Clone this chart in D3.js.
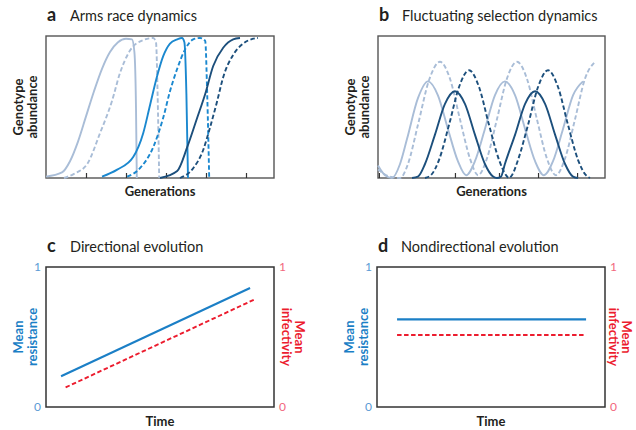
<!DOCTYPE html>
<html>
<head>
<meta charset="utf-8">
<script src="https://cdn.jsdelivr.net/npm/d3@7"></script>
<style>
  body { margin: 0; background: #fff; }
  text { font-family: Lato, "Open Sans", sans-serif; fill: #231f20; }
  .title { font-size: 14.5px; }
  .letter { font-size: 18px; font-weight: bold; }
  .axisLabel { font-size: 13px; font-weight: bold; }
  .tickNum { font-size: 12px; }
</style>
</head>
<body>
<svg id="chart-svg" width="636" height="430"></svg>
<script>
////////////////////////////////////////////////////////////////////////////////
// Data
// a: arms race, [generation, abundance]
var armsLight = [[0,0.01],[0.4,0.04],[0.6,0.12],[0.8,0.26],[1.0,0.44],[1.2,0.62],[1.4,0.78],[1.6,0.9],[1.8,0.97],[2.0,0.995],[2.15,0.99],[2.21,0.9],[2.25,0.5],[2.27,0]];
var armsLightDash = [[0.45,0],[0.7,0.03],[1.03,0.1],[1.35,0.32],[1.65,0.55],[1.85,0.75],[2.1,0.91],[2.43,0.985],[2.68,1.0],[2.75,0.97],[2.79,0.6],[2.83,0]];
var armsMid = [[1.4,0.01],[1.78,0.06],[2.18,0.15],[2.43,0.32],[2.6,0.52],[2.78,0.73],[2.93,0.87],[3.1,0.96],[3.28,0.99],[3.4,1.0],[3.46,0.97],[3.51,0.6],[3.55,0]];
var armsMidDash = [[2.03,0.01],[2.35,0.07],[2.68,0.22],[2.93,0.43],[3.1,0.62],[3.28,0.78],[3.48,0.92],[3.68,0.99],[3.85,1.0],[3.98,0.98],[4.03,0.6],[4.08,0]];
var armsDark = [[2.85,0],[3.28,0.05],[3.53,0.22],[3.78,0.43],[3.98,0.6],[4.18,0.8],[4.43,0.93],[4.68,0.99],[4.85,1.0]];
var armsDarkDash = [[3.35,0],[3.68,0.07],[3.93,0.2],[4.1,0.36],[4.28,0.55],[4.43,0.72],[4.68,0.88],[4.93,0.96],[5.18,0.995],[5.3,1.0]];
var armsTicks = [1, 2, 3, 4, 5];

// b: fluctuating selection, generation values and abundances
var flucLightX = [0,3.1,6.2,9.7,12.8,17.6,22.0,26.4,30.8,35.2,38.8,42.7,47.1,51.5,55.9,60.4,64.8,69.2,73.1,77.1,81.5,85.9,90.3];
var flucLightY = [0.09,0.02,0,0.1,0.28,0.57,0.69,0.59,0.35,0.12,0.02,0.12,0.35,0.59,0.69,0.59,0.35,0.12,0.02,0.12,0.35,0.59,0.69];
var flucLightDashX = [0,4.4,9.7,13.2,17.6,22.5,27.3,31.7,36.1,40.5,44.1,48.0,52.4,56.8,61.2,65.6,70.0,74.4,78.4,82.4,86.8,91.2,95.6];
var flucLightDashY = [0.06,0.015,0,0.1,0.38,0.7,0.83,0.71,0.42,0.14,0.02,0.14,0.42,0.71,0.83,0.71,0.42,0.14,0.02,0.14,0.42,0.71,0.83];
var flucDarkX = [15.0,17.6,20.7,25.1,29.5,33.9,38.3,42.7,47.1,50.7,52.4,54.2,55.9,60.4,64.8,69.2,73.6,78.0,82.4,85.9,88.1];
var flucDarkY = [0,0.01,0.1,0.31,0.53,0.62,0.53,0.31,0.1,0.01,0,0.01,0.1,0.31,0.53,0.62,0.53,0.31,0.1,0.01,0];
var flucDarkDashX = [20.7,23.3,26.9,31.3,35.7,40.1,44.5,48.9,53.3,56.4,57.7,59.0,61.7,66.1,70.5,74.9,79.3,83.7,88.1,91.6,93.4];
var flucDarkDashY = [0,0.02,0.13,0.38,0.65,0.77,0.65,0.38,0.13,0.02,0,0.02,0.13,0.38,0.65,0.77,0.65,0.38,0.13,0.02,0];
var flucTicks = [0.4, 33.9, 53.3, 70.5, 87.7];

// c, d: mean resistance / infectivity over time
var dirTimeRes = [0.066, 0.895], dirResistance = [0.22, 0.85];
var dirTimeInf = [0.086, 0.917], dirInfectivity = [0.14, 0.77];
var nonTime = [0.088, 0.917];
var nonResistance = [0.626, 0.626], nonInfectivity = [0.514, 0.514];

var titles = ["Arms race dynamics", "Fluctuating selection dynamics", "Directional evolution", "Nondirectional evolution"];
var letters = ["a", "b", "c", "d"];

////////////////////////////////////////////////////////////////////////////////
const svg = d3.select("#chart-svg");
var light = "#a9bdd7", mid = "#1b88cf", dark = "#1c4f7c";
var blue = "#1b7fc6", red = "#ec1c2e";
var dash = "4.5,2.5";

// panel boxes: left, top, right, bottom of frame
var boxA = [46, 36, 274, 178], boxB = [378, 36, 605, 178];
var boxC = [46, 267, 274, 407], boxD = [377, 267, 605, 407];

function header(box, i, dy) {
  svg.append("text").attr("class", "letter")
     .attr("x", box[0] + 1).attr("y", box[1] - dy).text(letters[i]);
  svg.append("text").attr("class", "title")
     .attr("x", box[0] + 24).attr("y", box[1] - dy).text(titles[i]);
}; // end header

function twoLine(x, y, rot, l1, l2, color, gap) {
  var t = svg.append("text").attr("class", "axisLabel")
             .attr("transform", "translate(" + x + "," + y + ") rotate(" + rot + ")")
             .attr("text-anchor", "middle").style("fill", color);
  t.append("tspan").attr("x", 0).attr("y", 0).text(l1);
  t.append("tspan").attr("x", 0).attr("y", gap).text(l2);
}; // end twoLine

////////////////////////////////////////////////////////////////////////////////
// a and b: genotype abundance panels
function genotypePanel(box, xDomain, ticks, series, i) {
  var x = d3.scaleLinear().domain(xDomain).range([box[0], box[2]]);
  var y = d3.scaleLinear().domain([0, 1]).range([box[3], box[1] + 2]);
  var line = d3.line().x(function(d) { return x(d[0]); })
                      .y(function(d) { return y(d[1]); })
                      .curve(d3.curveMonotoneX);
  var g = svg.append("g");
  g.append("rect").attr("x", box[0]).attr("y", box[1])
   .attr("width", box[2] - box[0]).attr("height", box[3] - box[1])
   .attr("fill", "none").attr("stroke", "#555").attr("stroke-width", 1.4);
  g.append("g").attr("transform", "translate(0," + box[3] + ")")
   .call(d3.axisTop(x).tickValues(ticks).tickSize(5).tickFormat(""))
   .call(function(a) { a.select(".domain").remove(); })
   .selectAll("line").attr("stroke", "#333").attr("stroke-width", 1.2);
  series.forEach(function(s) {
    g.append("path").attr("d", line(s.pts))
     .attr("fill", "none").attr("stroke", s.color).attr("stroke-width", 1.9)
     .attr("stroke-dasharray", s.dashed ? dash : null);
  });
  header(box, i, 15);
  svg.append("text").attr("class", "axisLabel").attr("text-anchor", "middle")
     .attr("x", (box[0] + box[2]) / 2).attr("y", box[3] + 18).text("Generations");
  twoLine(box[0] - 23.5, (box[1] + box[3]) / 2, -90, "Genotype", "abundance", "#231f20", 14);
}; // end genotypePanel

function zipXY(xs, ys) { return xs.map(function(v, k) { return [v, ys[k]]; }); }

genotypePanel(boxA, [0, 5.7], armsTicks, [
  { pts: armsLight, color: light }, { pts: armsLightDash, color: light, dashed: true },
  { pts: armsMid, color: mid }, { pts: armsMidDash, color: mid, dashed: true },
  { pts: armsDark, color: dark }, { pts: armsDarkDash, color: dark, dashed: true }
], 0);

genotypePanel(boxB, [0, 100], flucTicks, [
  { pts: zipXY(flucLightX, flucLightY), color: light },
  { pts: zipXY(flucLightDashX, flucLightDashY), color: light, dashed: true },
  { pts: zipXY(flucDarkX, flucDarkY), color: dark },
  { pts: zipXY(flucDarkDashX, flucDarkDashY), color: dark, dashed: true }
], 1);

////////////////////////////////////////////////////////////////////////////////
// c and d: mean resistance / infectivity panels
function meanPanel(box, timeRes, res, timeInf, inf, i, rightGap) {
  var x = d3.scaleLinear().domain([0, 1]).range([box[0], box[2]]);
  var y = d3.scaleLinear().domain([0, 1]).range([box[3], box[1]]);
  var line = d3.line().x(function(d) { return x(d[0]); }).y(function(d) { return y(d[1]); });
  var g = svg.append("g");
  g.append("rect").attr("x", box[0]).attr("y", box[1])
   .attr("width", box[2] - box[0]).attr("height", box[3] - box[1])
   .attr("fill", "none").attr("stroke", "#333").attr("stroke-width", 1.5);
  g.append("path").attr("d", line(zipXY(timeRes, res)))
   .attr("fill", "none").attr("stroke", blue).attr("stroke-width", 2.1);
  g.append("path").attr("d", line(zipXY(timeInf, inf)))
   .attr("fill", "none").attr("stroke", red).attr("stroke-width", 1.9)
   .attr("stroke-dasharray", dash);
  // 0 and 1 on both sides
  g.selectAll(".numL").data([0, 1]).enter().append("text").attr("class", "tickNum")
   .attr("x", box[0] - 5).attr("y", function(d) { return y(d) + 4; })
   .attr("text-anchor", "end").style("fill", "#5b9bd5").text(function(d) { return d; });
  g.selectAll(".numR").data([0, 1]).enter().append("text").attr("class", "tickNum")
   .attr("x", box[2] + 5).attr("y", function(d) { return y(d) + 4; })
   .style("fill", "#f2687e").text(function(d) { return d; });
  header(box, i, 15);
  svg.append("text").attr("class", "axisLabel").attr("text-anchor", "middle")
     .attr("x", (box[0] + box[2]) / 2).attr("y", box[3] + 19).text("Time");
  twoLine(box[0] - 23.5, (box[1] + box[3]) / 2, -90, "Mean", "resistance", blue, 14);
  twoLine(box[2] + rightGap, (box[1] + box[3]) / 2, 90, "Mean", "infectivity", red, 13);
}; // end meanPanel

meanPanel(boxC, dirTimeRes, dirResistance, dirTimeInf, dirInfectivity, 2, 21);
meanPanel(boxD, nonTime, nonResistance, nonTime, nonInfectivity, 3, 17);
</script>
</body>
</html>
